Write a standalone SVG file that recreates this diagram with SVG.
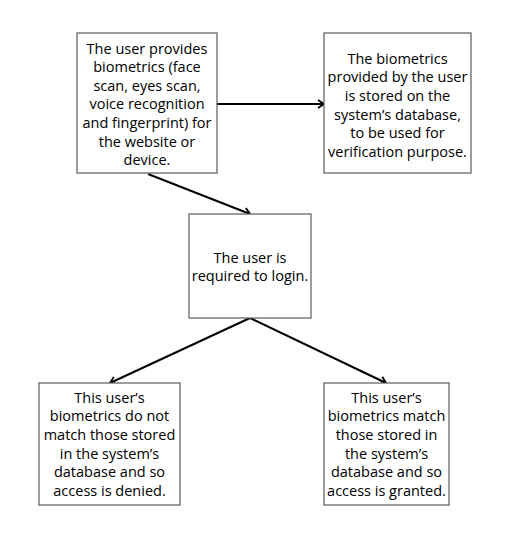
<svg xmlns="http://www.w3.org/2000/svg" width="515" height="542" viewBox="0 0 515 542">
<defs>
<marker id="arr" viewBox="0 0 10 10" refX="9" refY="5" markerWidth="10" markerHeight="10" markerUnits="userSpaceOnUse" orient="auto">
<path d="M3,1 L9,5 L3,9" fill="none" stroke="#000" stroke-width="1.8"/>
</marker>
<style>
.box{fill:#fff;stroke:#5a5a5a;stroke-width:1.2}
.t{font-family:"Open Sans","Noto Sans",sans-serif;font-size:14.5px;fill:#000;text-anchor:middle}
.c{fill:none;stroke:#000;stroke-width:2;marker-end:url(#arr)}
</style>
</defs>
<rect width="515" height="542" fill="#fff"/>
<g id="connectors">
<line class="c" x1="217" y1="104" x2="324" y2="104"/>
<line class="c" x1="148" y1="174" x2="250" y2="214"/>
<line class="c" x1="250" y1="318" x2="110" y2="383"/>
<line class="c" x1="250" y1="318" x2="386" y2="383"/>
</g>
<g id="n1">
<rect class="box" x="77" y="33" width="140" height="140"/>
<text class="t" x="147" y="53.5">The user provides</text>
<text class="t" x="147" y="72">biometrics (face</text>
<text class="t" x="147" y="90.7">scan, eyes scan,</text>
<text class="t" x="147" y="109.4">voice recognition</text>
<text class="t" x="147" y="128">and fingerprint) for</text>
<text class="t" x="147" y="146.7">the website or</text>
<text class="t" x="147" y="165.4">device.</text>
</g>
<g id="n2">
<rect class="box" x="324" y="33" width="147" height="140"/>
<text class="t" x="397.5" y="63.5">The biometrics</text>
<text class="t" x="397.5" y="82">provided by the user</text>
<text class="t" x="397.5" y="100.8">is stored on the</text>
<text class="t" x="397.5" y="119.5">system’s database,</text>
<text class="t" x="397.5" y="138.2">to be used for</text>
<text class="t" x="397.5" y="156.8">verification purpose.</text>
</g>
<g id="n3">
<rect class="box" x="189" y="214" width="122" height="104"/>
<text class="t" x="250" y="262.5">The user is</text>
<text class="t" x="250" y="281.2">required to login.</text>
</g>
<g id="n4">
<rect class="box" x="39" y="383" width="141" height="122"/>
<text class="t" x="109.5" y="402.5">This user’s</text>
<text class="t" x="109.5" y="421.2">biometrics do not</text>
<text class="t" x="109.5" y="439.9">match those stored</text>
<text class="t" x="109.5" y="458.6">in the system’s</text>
<text class="t" x="109.5" y="477.3">database and so</text>
<text class="t" x="109.5" y="496">access is denied.</text>
</g>
<g id="n5">
<rect class="box" x="324" y="383" width="125" height="122"/>
<text class="t" x="386.5" y="402.5">This user’s</text>
<text class="t" x="386.5" y="421.2">biometrics match</text>
<text class="t" x="386.5" y="439.9">those stored in</text>
<text class="t" x="386.5" y="458.6">the system’s</text>
<text class="t" x="386.5" y="477.3">database and so</text>
<text class="t" x="386.5" y="496">access is granted.</text>
</g>
</svg>
